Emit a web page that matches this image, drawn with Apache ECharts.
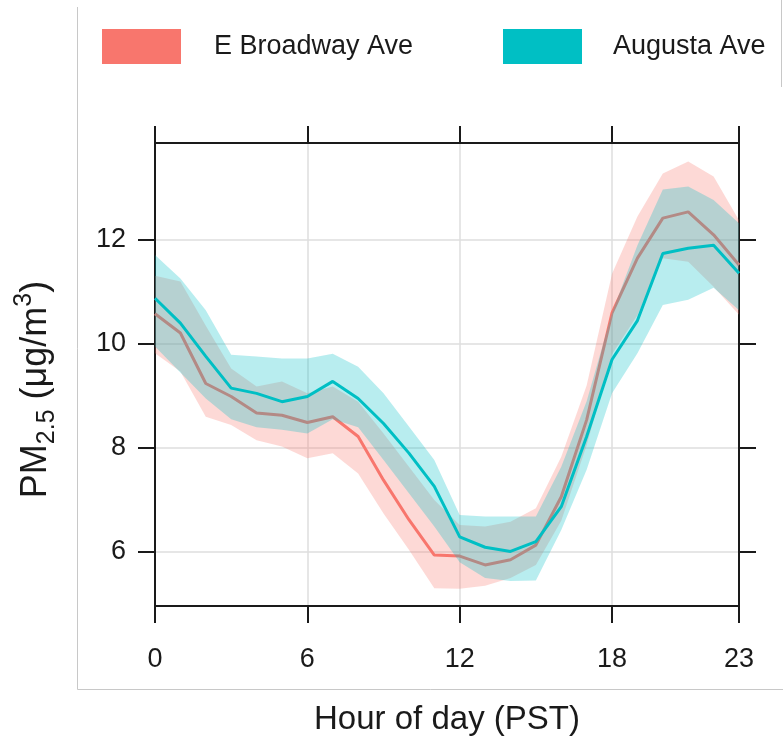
<!DOCTYPE html>
<html lang="en">
<head>
    <meta charset="UTF-8">
    <title>PM2.5 by hour</title>
    <style>
        html, body { margin: 0; padding: 0; background: #fff; }
        #main { width: 783px; height: 745px; }
    </style>
</head>
<body>
<div id="main"></div>

<script src="https://cdn.jsdelivr.net/npm/echarts@6/dist/echarts.min.js"></script>
<script>
var hours = ['0','1','2','3','4','5','6','7','8','9','10','11','12','13','14','15','16','17','18','19','20','21','22','23'];
var tickHours = [0, 6, 12, 18, 23];
var gridHours = [6, 12, 18];
var yTicks = [6, 8, 10, 12];

// E Broadway Ave : mean + band
var ebMean = [10.58, 10.21, 9.24, 8.99, 8.67, 8.63, 8.49, 8.60, 8.22, 7.38, 6.62, 5.94, 5.92, 5.75, 5.85, 6.13, 7.06, 8.54, 10.60, 11.65, 12.42, 12.54, 12.10, 11.52];
var ebLow  = [9.82, 9.47, 8.60, 8.44, 8.15, 8.03, 7.80, 7.90, 7.51, 6.74, 6.04, 5.30, 5.29, 5.35, 5.50, 5.75, 6.60, 8.05, 9.80, 10.55, 11.65, 11.58, 11.10, 10.56];
var ebHigh = [11.31, 11.20, 10.35, 9.53, 9.18, 9.28, 9.05, 9.18, 8.89, 8.28, 7.64, 7.00, 6.52, 6.49, 6.58, 6.84, 7.83, 9.20, 11.35, 12.45, 13.28, 13.51, 13.22, 12.38];

// Augusta Ave : mean + band
var auMean = [10.88, 10.40, 9.76, 9.15, 9.05, 8.89, 8.99, 9.28, 8.95, 8.47, 7.90, 7.26, 6.29, 6.09, 6.01, 6.20, 6.87, 8.22, 9.70, 10.45, 11.74, 11.84, 11.90, 11.36];
var auLow  = [9.95, 9.45, 8.95, 8.55, 8.40, 8.35, 8.28, 8.55, 8.40, 7.77, 7.13, 6.49, 5.80, 5.50, 5.44, 5.45, 6.42, 7.58, 9.05, 9.82, 10.75, 10.85, 11.08, 10.65];
var auHigh = [11.71, 11.26, 10.65, 9.79, 9.76, 9.72, 9.72, 9.81, 9.56, 9.05, 8.41, 7.77, 6.71, 6.68, 6.68, 6.68, 7.64, 8.90, 10.60, 11.90, 12.97, 13.03, 12.77, 12.32];

var pink = '#F8766D';
var cyan = '#00BFC4';
var ink = '#1a1a1a';
var font = "'Liberation Sans', Arial, sans-serif";

function width(low, high) {
    return high.map(function (v, i) { return +(v - low[i]).toFixed(2); });
}
function isTick(list) {
    return function (index) { return list.indexOf(index) !== -1; };
}

var bandLine = { opacity: 0 };

var option = {
    animation: false,
    backgroundColor: '#fff',
    textStyle: { fontFamily: font },
    grid: { left: 155, right: 44, top: 143, bottom: 139 },
    legend: [{
        left: 102, top: 29, padding: 0,
        selectedMode: false,
        icon: 'rect',
        itemWidth: 79, itemHeight: 35,
        itemStyle: { color: pink, opacity: 1 },
        textStyle: { fontSize: 27, color: ink, fontFamily: font, padding: [0, 0, 0, 28] },
        data: ['E Broadway Ave']
    }, {
        left: 503, top: 29, padding: 0,
        selectedMode: false,
        icon: 'rect',
        itemWidth: 79, itemHeight: 35,
        itemStyle: { color: cyan, opacity: 1 },
        textStyle: { fontSize: 27, color: ink, fontFamily: font, padding: [0, 0, 0, 26] },
        data: ['Augusta Ave']
    }],
    xAxis: [{
        type: 'category',
        position: 'bottom',
        boundaryGap: false,
        data: hours,
        name: 'Hour of day (PST)',
        nameLocation: 'middle',
        nameGap: 97,
        nameTextStyle: { fontSize: 33, color: ink, fontFamily: font },
        axisLine: { lineStyle: { color: ink, width: 2 } },
        axisTick: { length: 17, interval: isTick(tickHours), lineStyle: { color: ink, width: 2 } },
        axisLabel: { interval: isTick(tickHours), margin: 40, fontSize: 27, color: ink, fontFamily: font },
        splitLine: { show: true, interval: isTick(gridHours), lineStyle: { color: '#dedede', width: 1.5 } }
    }, {
        type: 'category',
        position: 'top',
        boundaryGap: false,
        data: hours,
        axisLine: { lineStyle: { color: ink, width: 2 } },
        axisTick: { length: 17, interval: isTick(tickHours), lineStyle: { color: ink, width: 2 } },
        axisLabel: { show: false },
        splitLine: { show: false }
    }],
    yAxis: [{
        type: 'value',
        position: 'left',
        min: 4.96,
        max: 13.865,
        name: '{a|PM}{b|2.5}{a| (μg/m}{c|3}{a|)}',
        nameLocation: 'middle',
        nameRotate: 90,
        nameGap: 95,
        nameTextStyle: {
            color: ink,
            fontFamily: font,
            padding: [0, 30, 0, 0],
            rich: {
                a: { fontSize: 36, lineHeight: 48, color: ink, fontFamily: font },
                b: { fontSize: 25, lineHeight: 24, verticalAlign: 'bottom', color: ink, fontFamily: font },
                c: { fontSize: 25, lineHeight: 24, verticalAlign: 'top', color: ink, fontFamily: font }
            }
        },
        axisLine: { show: true, lineStyle: { color: ink, width: 2 } },
        axisTick: { show: true, length: 17, customValues: yTicks, lineStyle: { color: ink, width: 2 } },
        axisLabel: { customValues: yTicks, margin: 29, fontSize: 27, color: ink, fontFamily: font },
        splitLine: { show: true, lineStyle: { color: '#dedede', width: 1.5 } }
    }, {
        type: 'value',
        position: 'right',
        min: 4.96,
        max: 13.865,
        axisLine: { show: true, lineStyle: { color: ink, width: 2 } },
        axisTick: { show: true, length: 17, customValues: yTicks, lineStyle: { color: ink, width: 2 } },
        axisLabel: { show: false },
        splitLine: { show: false }
    }],
    // z keeps the order: pink band, pink line, cyan band, cyan line
    series: [{
        name: 'ebLow', type: 'line', stack: 'eb', data: ebLow, z: 3,
        symbol: 'none', lineStyle: bandLine, silent: true
    }, {
        name: 'E Broadway Ave', type: 'line', stack: 'eb', data: width(ebLow, ebHigh), z: 3,
        symbol: 'none', lineStyle: bandLine, itemStyle: { color: pink },
        areaStyle: { color: 'rgba(248,118,109,0.4)' }, silent: true
    }, {
        name: 'ebMean', type: 'line', data: ebMean, z: 4,
        symbol: 'none', lineStyle: { color: pink, width: 3 }, itemStyle: { color: pink }
    }, {
        name: 'auLow', type: 'line', stack: 'au', data: auLow, z: 5,
        symbol: 'none', lineStyle: bandLine, silent: true
    }, {
        name: 'Augusta Ave', type: 'line', stack: 'au', data: width(auLow, auHigh), z: 5,
        symbol: 'none', lineStyle: bandLine, itemStyle: { color: cyan },
        areaStyle: { color: 'rgba(0,191,196,0.4)' }, silent: true
    }, {
        name: 'auMean', type: 'line', data: auMean, z: 6,
        symbol: 'none', lineStyle: { color: cyan, width: 3 }, itemStyle: { color: cyan }
    }],
    // thin grey frame of the original screenshot
    graphic: [
        { type: 'line', z: 0, shape: { x1: 77.5, y1: 7, x2: 77.5, y2: 689.5 }, style: { stroke: '#c8c8c8', lineWidth: 1 } },
        { type: 'line', z: 0, shape: { x1: 77.5, y1: 689.5, x2: 783, y2: 689.5 }, style: { stroke: '#c8c8c8', lineWidth: 1 } },
        { type: 'line', z: 0, shape: { x1: 781.5, y1: 0, x2: 781.5, y2: 87 }, style: { stroke: '#c8c8c8', lineWidth: 1 } }
    ]
};

var chart = echarts.init(document.getElementById('main'));
chart.setOption(option);
</script>
</body>
</html>
